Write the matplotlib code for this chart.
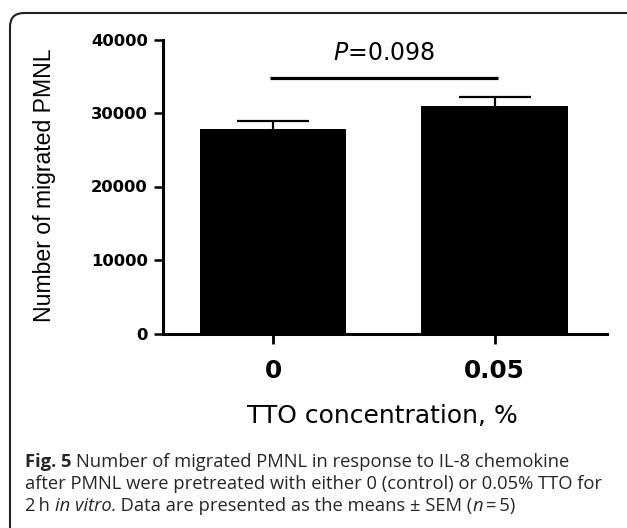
import matplotlib
matplotlib.use("Agg")
import matplotlib.pyplot as plt
from matplotlib.patches import FancyBboxPatch
from matplotlib.transforms import IdentityTransform
import numpy as np

# ---- data ----
categories = ["0", "0.05"]
means = [27800, 31000]
sems = [1070, 1230]
y_ticks = [0, 10000, 20000, 30000, 40000]
y_max = 40000
p_value_text = r"$P$=0.098"
sig_level = 34800
sig_text_level = 37250
x_label = "TTO concentration, %"
y_label = "Number of migrated PMNL"
# caption: (text, style) segments; style: b=bold, r=regular, i=italic
caption_line1 = [("Fig. 5", "b"), (" Number of migrated PMNL in response to IL-8 chemokine", "r")]
caption_line2 = [("after PMNL were pretreated with either 0 (control) or 0.05% TTO for", "r")]
caption_line3 = [("2\u2009h ", "r"), ("in vitro", "i"),
                 (". Data are presented as the means \u00b1 SEM (", "r"),
                 ("n", "i"), ("\u2009=\u20095)", "r")]
caption_lines = [caption_line1, caption_line2, caption_line3]

W, H = 627, 528
fig = plt.figure(figsize=(W / 100, H / 100), dpi=100)
fig.patch.set_facecolor("white")

# border (rounded, open to the right/bottom edges)
border = FancyBboxPatch((10, -40), 660, 528 - 13 + 40,
                        boxstyle="round,pad=0,rounding_size=14",
                        transform=IdentityTransform(), fill=False,
                        edgecolor="#222222", linewidth=1.5, clip_on=False)
fig.patches.append(border)

left_px, right_px, top_px, bottom_px = 163, 607, 39.5, 333.5
ax = fig.add_axes([left_px / W, (H - bottom_px) / H,
                   (right_px - left_px) / W, (bottom_px - top_px) / H])

x = np.arange(len(categories))
tops = np.array(means) + np.array(sems)
ax.bar(x, means, width=0.662, color="black", edgecolor="none", zorder=3)
ax.vlines(x, means, tops, color="black", linewidth=1.6, zorder=2)
ax.plot(x, tops, linestyle="none", marker="_", markersize=52,
        markeredgewidth=1.6, color="black", zorder=2)

ax.set_xlim(-0.497, 1.508)
ax.set_ylim(0, y_max)
ax.set_yticks(y_ticks)
ax.set_yticklabels([str(t) for t in y_ticks], fontfamily="DejaVu Sans",
                   fontweight="bold", fontsize=11.8)
ax.set_xticks(x)
ax.set_xticklabels(categories, fontfamily="DejaVu Sans", fontweight="bold",
                   fontsize=17.8)

for s in ["top", "right", "bottom"]:
    ax.spines[s].set_visible(False)
ax.spines["left"].set_linewidth(2.2)
ax.axhline(0, color="black", linewidth=2.2, zorder=4, clip_on=False)

ax.tick_params(axis="y", length=6.5, width=1.8, pad=4.5, direction="out")
ax.tick_params(axis="x", length=7.5, width=2.0, pad=11, direction="out")

# significance bar and P value
ax.plot([x[0] - 0.015, x[-1] + 0.015], [sig_level, sig_level], color="black",
        linewidth=2.3, clip_on=False, solid_capstyle="butt")
ax.text((x[0] + x[-1]) / 2 + 0.003, sig_text_level, p_value_text,
        ha="center", va="baseline", fontsize=17, fontfamily="DejaVu Sans",
        math_fontfamily="dejavusans")

# axis labels
ax.set_xlabel(x_label, fontfamily="DejaVu Sans", fontsize=18, va="baseline")
ax.xaxis.set_label_coords((382 - left_px) / (right_px - left_px),
                          (bottom_px - 422.7) / (bottom_px - top_px))
ax.set_ylabel(y_label, fontfamily="Liberation Sans", fontsize=16.6,
              va="baseline", ha="center", rotation_mode="anchor")
ax.yaxis.set_label_coords((50.7 - left_px) / (right_px - left_px),
                          (bottom_px - 185.5) / (bottom_px - top_px))

# caption (rich text built from segments)
cap_family = ["Open Sans", "DejaVu Sans"]
cap_color = "#262626"
style_kw = {"b": dict(fontweight="bold", fontstyle="normal"),
            "r": dict(fontweight="normal", fontstyle="normal"),
            "i": dict(fontweight="normal", fontstyle="italic")}
renderer = fig.canvas.get_renderer()


def text_width(s, size, st):
    if not s:
        return 0.0
    t = fig.text(0, 0, s, transform=IdentityTransform(), fontsize=size,
                 fontfamily=cap_family, **style_kw[st])
    w = t.get_window_extent(renderer).width
    t.remove()
    return w


def space_width(size, st):
    return text_width("n n", size, st) - text_width("nn", size, st)


def draw_line(segments, x0, y0, size, draw=True):
    xpos = x0
    for s, st in segments:
        core = s.strip(" ")
        lead = len(s) - len(s.lstrip(" "))
        trail = len(s) - len(s.rstrip(" "))
        sw = space_width(size, st)
        xpos += lead * sw
        if draw and core:
            fig.text(xpos, y0, core, transform=IdentityTransform(),
                     ha="left", va="baseline", fontsize=size,
                     fontfamily=cap_family, color=cap_color, **style_kw[st])
        xpos += text_width(core, size, st) + trail * sw
    return xpos - x0


base_size = 10
w2 = draw_line(caption_line2, 0, 0, base_size, draw=False)
cap_size = base_size * (603 - 25) / w2
baselines = [466.7, 489.3, 511.0]
for segs, yb in zip(caption_lines, baselines):
    draw_line(segs, 25, H - yb, cap_size)

fig.savefig("out.png", dpi=100)
